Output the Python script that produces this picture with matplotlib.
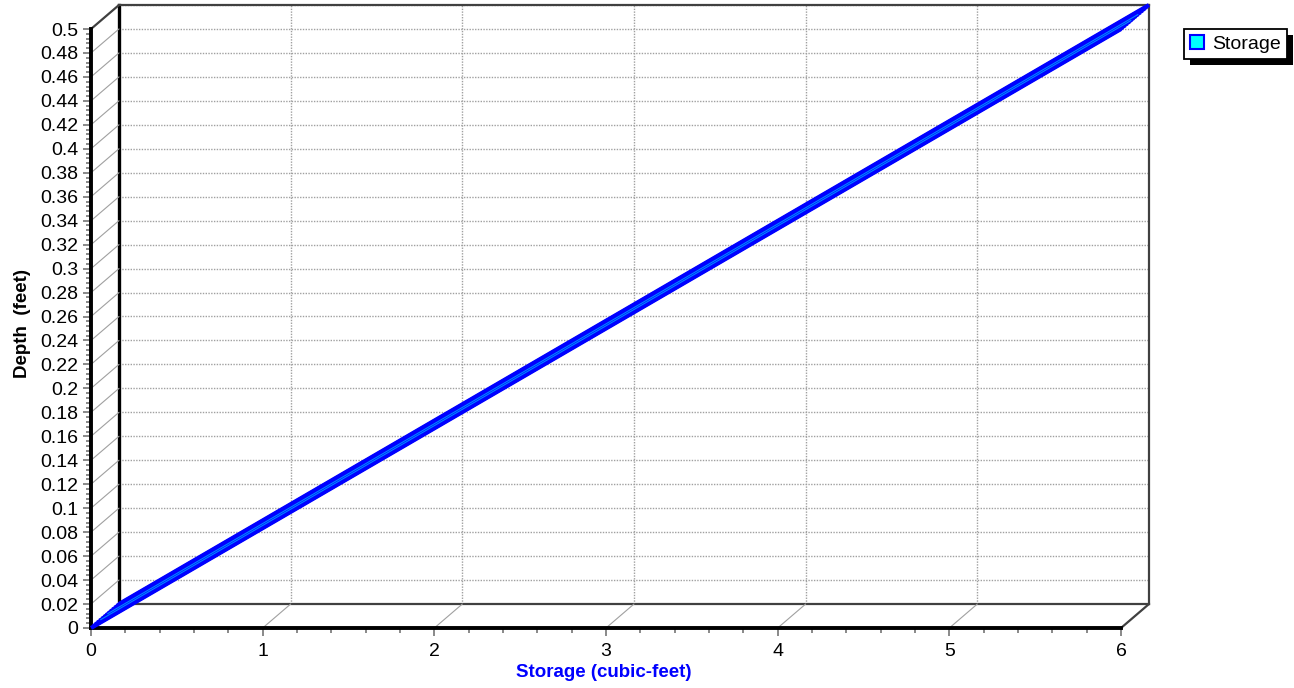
import numpy as np
import matplotlib
matplotlib.use("Agg")
import matplotlib.pyplot as plt
from matplotlib.ticker import MultipleLocator, FormatStrFormatter
from matplotlib.transforms import ScaledTranslation
from matplotlib.patches import ConnectionPatch, Patch, Rectangle

plt.rcParams['font.family'] = ['Liberation Sans', 'DejaVu Sans']

# stage-storage data
depth = [0.0, 0.05, 0.10, 0.15, 0.20, 0.25, 0.30, 0.35, 0.40, 0.45, 0.50]
storage = [0.0, 0.6, 1.2, 1.8, 2.4, 3.0, 3.6, 4.2, 4.8, 5.4, 6.0]
x_ticks = [0, 1, 2, 3, 4, 5, 6]
y_ticks = [0.0, 0.02, 0.04, 0.06, 0.08, 0.10, 0.12, 0.14, 0.16, 0.18, 0.20, 0.22, 0.24,
           0.26, 0.28, 0.30, 0.32, 0.34, 0.36, 0.38, 0.40, 0.42, 0.44, 0.46, 0.48, 0.50]

W, H = 1294, 688
fig = plt.figure(figsize=(W / 100, H / 100), dpi=100)

# 3D depth offset in pixels (back wall vs front axis)
dx, dy = 28, 24

# back wall
ax = fig.add_axes([(91 + dx) / W, (H - 628 + dy) / H, 1030 / W, 599 / H])
ax.set_xlim(0, 6)
ax.set_ylim(0, 0.5)
ax.xaxis.set_major_locator(MultipleLocator(1))
ax.yaxis.set_major_locator(MultipleLocator(0.02))
ax.tick_params(length=0, labelbottom=False, labelleft=False)
ax.grid(True, color='#a0a0a0', linestyle=(0, (1, 1)), lw=1)
ax.spines['left'].set_linewidth(2.4)
ax.spines['left'].set_color('black')
for s in ['top', 'right', 'bottom']:
    ax.spines[s].set_linewidth(1.6)
    ax.spines[s].set_color('#404040')

# front axis
axf = fig.add_axes([91 / W, (H - 628) / H, 1030 / W, 599 / H])
axf.set_facecolor('none')
axf.set_xlim(0, 6)
axf.set_ylim(0, 0.5)
axf.spines['top'].set_visible(False)
axf.spines['right'].set_visible(False)
for s in ['left', 'bottom']:
    axf.spines[s].set_linewidth(2.8)
    axf.spines[s].set_color('black')
axf.xaxis.set_major_locator(MultipleLocator(1))
axf.xaxis.set_minor_locator(MultipleLocator(0.2))
axf.yaxis.set_major_locator(MultipleLocator(0.02))
axf.yaxis.set_minor_locator(MultipleLocator(0.004))
axf.yaxis.set_major_formatter(FormatStrFormatter('%g'))
axf.tick_params(which='major', length=6, width=1.3, color='#808080', labelsize=14, pad=3)
axf.tick_params(which='minor', length=3.5, width=1.3, color='#808080')
axf.tick_params(axis='x', which='major', pad=5)

# side walls / floor diagonals
for y in y_ticks[1:]:
    c = '#404040' if y == 0.5 else '#a0a0a0'
    con = ConnectionPatch(xyA=(0, y), coordsA=ax.transData, xyB=(0, y), coordsB=axf.transData,
                          color=c, lw=1.6 if y == 0.5 else 0.8, zorder=1)
    axf.add_artist(con)
for x in x_ticks[1:]:
    c = '#404040' if x == 6 else '#a0a0a0'
    con = ConnectionPatch(xyA=(x, 0), coordsA=ax.transData, xyB=(x, 0), coordsB=axf.transData,
                          color=c, lw=1.6 if x == 6 else 0.8, zorder=1)
    axf.add_artist(con)

# 3D ribbon for the series
for t in np.linspace(0, 1, 14):
    tr = axf.transData + ScaledTranslation(dx * t / 100, dy * t / 100, fig.dpi_scale_trans)
    axf.plot(storage, depth, color='#0000ff', lw=3.0, transform=tr, clip_on=False, zorder=3,
             solid_capstyle='butt')
for t in [0.35, 0.6]:
    tr = axf.transData + ScaledTranslation(dx * t / 100, dy * t / 100, fig.dpi_scale_trans)
    axf.plot(storage, depth, color='#00e0ff', lw=0.8, alpha=0.6, transform=tr, clip_on=False,
             zorder=4)

axf.set_xlabel('Storage (cubic-feet)', fontsize=13.5, fontweight='bold', color='#0000ff')
axf.xaxis.set_label_coords(0.498, -0.0735)
axf.xaxis.label.set_va('center')
axf.set_ylabel('Depth  (feet)', fontsize=13.5, fontweight='bold', color='black')
axf.yaxis.set_label_coords(-0.0665, 0.509)
axf.yaxis.label.set_va('center')

leg = fig.legend(handles=[Patch(facecolor='#00ffff', edgecolor='#0000ff', lw=1.5, label='Storage')],
                 loc='upper left', bbox_to_anchor=(1184 / W, 1 - 29 / H), fontsize=14,
                 frameon=True, fancybox=False, edgecolor='black', framealpha=1,
                 borderpad=0.3, handletextpad=0.4, borderaxespad=0,
                 handlelength=0.75, handleheight=0.75)
leg.get_frame().set_linewidth(1.3)

fig.canvas.draw()
bb = leg.get_window_extent()
inv = fig.transFigure.inverted()
(x0, y0), (x1, y1) = inv.transform([(bb.x0 + 6, bb.y0 - 6), (bb.x1 + 6, bb.y1 - 6)])
fig.add_artist(Rectangle((x0, y0), x1 - x0, y1 - y0, transform=fig.transFigure,
                         facecolor='black', edgecolor='none', zorder=4))

fig.savefig('out.png', dpi=100)
